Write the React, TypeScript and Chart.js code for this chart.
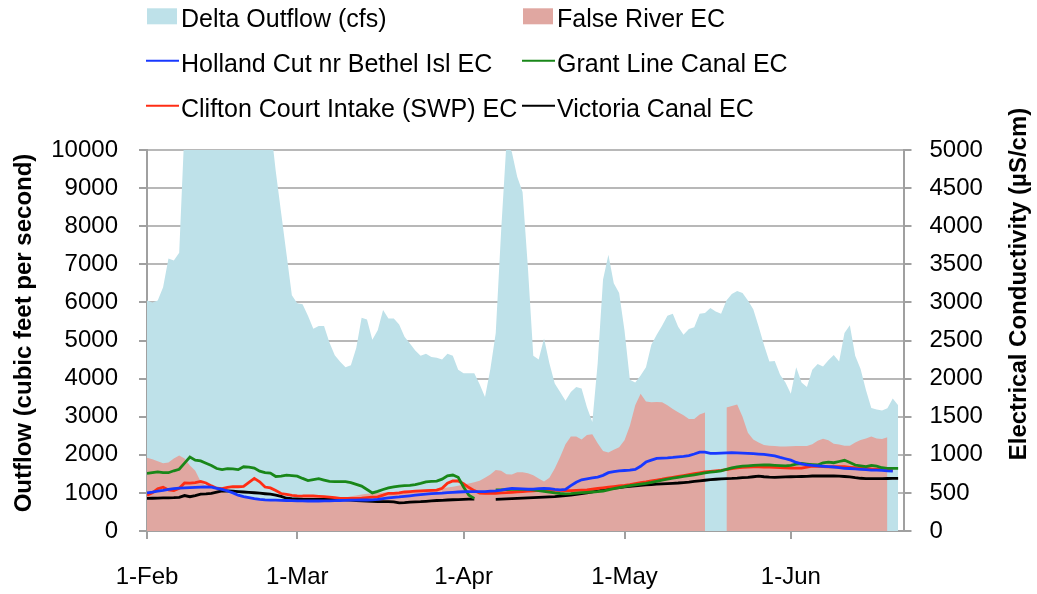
import React, { useEffect, useRef } from 'react';
import { Chart, registerables } from 'chart.js';

Chart.register(...registerables);

// ---- Data (day index 0 = 1-Feb) ----
const monthTickDays = [0, 28, 59, 89, 120];
const monthTickLabels = ['1-Feb', '1-Mar', '1-Apr', '1-May', '1-Jun'];

const leftAxisTitle = 'Outflow (cubic feet per second)';
const rightAxisTitle = 'Electrical Conductivity (µS/cm)';

const seriesLabels = [
  'Delta Outflow (cfs)',
  'False River EC',
  'Holland Cut nr Bethel Isl EC',
  'Grant Line Canal EC',
  'Clifton Court Intake (SWP) EC',
  'Victoria Canal EC',
];

const outflowCfs = [
  6050, 6000, 6050, 6400, 7150, 7100, 7300, 10600, 12800, 14500,
  15500, 16000, 15800, 15200, 14800, 14200, 13800, 13400, 13000, 12600,
  12200, 11800, 11300, 10700, 9440, 8350, 7270, 6190, 5980, 5950,
  5650, 5310, 5380, 5380, 4950, 4610, 4440, 4300, 4350, 4800,
  5600, 5550, 5020, 5270, 5800, 5580, 5580, 5420, 5100, 4920,
  4740, 4600, 4650, 4570, 4550, 4500, 4650, 4600, 4230, 4140,
  4140, 4140, 3850, 3520, 4250, 5200, 7870, 10200, 9950, 9300,
  8900, 6900, 4600, 4500, 5050, 4400, 3870, 3650, 3420, 3650,
  3780, 3740, 3250, 2860, 4400, 6600, 7250, 6500, 6250, 5260,
  3970, 3900, 4080, 4300, 4890, 5150, 5390, 5650, 5700, 5360,
  5150, 5300, 5350, 5700, 5720, 5850, 5760, 5700, 6050, 6220,
  6300, 6250, 6050, 5820, 5370, 4880, 4450, 4460, 4100, 3900,
  3600, 4300, 3900, 3780, 4230, 4380, 4320, 4480, 4620, 4450,
  5200, 5400, 4600, 4250, 3700, 3230, 3190, 3160, 3220, 3480,
  3300,
];

const falseRiverEC = [
  960, 940, 915, 890, 900, 950, 990, 950, 860, 790,
  650, 585, 560, 540, 525, 500, 480, 465, 455, 445,
  435, 425, 415, 410, 408, 408, 410, 412, 414, 416,
  418, 420, 422, 424, 426, 428, 430, 440, 455, 465,
  478, 488, 496, 500, 505, 508, 512, 515, 518, 525,
  530, 538, 545, 550, 556, 562, 570, 580, 595, 610,
  625, 640, 660, 700, 740, 800, 790, 745, 740, 770,
  770, 757, 730, 690, 650, 700, 820, 970, 1140, 1240,
  1240, 1200, 1260, 1270, 1150, 1050, 1030, 1065, 1100, 1190,
  1380, 1650, 1800, 1700, 1690, 1692, 1690, 1650, 1600, 1560,
  1520, 1470, 1470, 1530, 1555, null, null, null, 1620, 1640,
  1660, 1500, 1290, 1200, 1160, 1130, 1120, 1115, 1108, 1110,
  1112, 1115, 1115, 1115, 1140, 1185, 1210, 1190, 1145, 1135,
  1120, 1119, 1160, 1195, 1215, 1240, 1215, 1207, 1230,
];

const hollandCutEC = [
  500, 510, 522, 532, 545, 556, 562, 565, 568, 572,
  576, 580, 575, 560, 545, 525, 500, 470, 450, 438,
  425, 415, 408, 406, 404, 402, 400, 398, 396, 395,
  394, 394, 394, 395, 396, 398, 400, 402, 404, 405,
  407, 407, 408, 415, 425, 435, 442, 447, 455, 462,
  470, 478, 485, 490, 494, 497, 503, 508, 512, 515,
  516, 516, 516, 518, 522, 527, 535, 550, 560, 557,
  552, 548, 550, 555, 560, 555, 545, 540, 545, 595,
  640, 672, 684, 696, 708, 730, 765, 780, 790, 794,
  798, 808, 850, 905, 930, 954, 957, 960, 965, 972,
  980, 990, 1010, 1035, 1035, 1019, 1020, 1022, 1025, 1027,
  1024, 1022, 1020, 1015, 1010, 1005, 995, 985, 965, 948,
  930, 900, 880, 868, 860, 855, 850, 845, 840, 833,
  823, 820, 815, 810, 805, 800, 798, 795, 790, 787,
];

const grantLineEC = [
  755, 765, 775, 765, 765, 790, 810, 890, 970, 930,
  920, 890, 860, 820, 805, 818, 815, 805, 843, 838,
  825, 785, 765, 760, 715, 720, 733, 728, 720, 690,
  662, 675, 686, 668, 650, 647, 647, 647, 635, 612,
  590, 545, 500, 520, 545, 565, 578, 590, 595, 600,
  610, 625, 645, 650, 655, 680, 725, 735, 705, 578,
  470, 428, null, null, null, 538, 540, 543, 546, 547,
  547, 547, 540, 530, 520, 510, 500, 492, 486, 490,
  498, 504, 508, 512, 516, 525, 540, 555, 570, 583,
  595, 605, 615, 625, 637, 652, 667, 680, 693, 704,
  716, 727, 738, 750, 762, 772, 780, 790, 810, 828,
  843, 850, 856, 862, 864, 866, 866, 862, 858, 854,
  862, 878, 886, 879, 872, 866, 895, 903, 896, 912,
  928, 900, 866, 855, 845, 860, 850, 830, 823, 823,
  823,
];

const cliftonCourtEC = [
  470, 500, 555, 575, 538, 530, 560, 630, 628, 634,
  650, 630, 592, 562, 555, 572, 581, 581, 585, 637,
  690, 645, 577, 565, 530, 492, 480, 468, 462, 459,
  459, 459, 455, 452, 445, 437, 429, 429, 429, 429,
  432, 438, 444, 448, 470, 495, 495, 500, 512, 518,
  522, 527, 530, 533, 536, 560, 628, 656, 656, 620,
  570, 530, 497, 495, 495, 495, 500, 503, 508, 514,
  518, 522, 528, 532, 537, 536, 534, 532, 530, 531,
  534, 536, 538, 548, 558, 567, 575, 583, 592, 600,
  610, 622, 635, 645, 657, 669, 680, 693, 705, 717,
  728, 740, 752, 763, 775, 782, 788, 795, 806, 818,
  828, 834, 838, 841, 843, 840, 837, 834, 831, 828,
  826, 824, 826, 838, 851, 848, 845, 843, 843, 843,
  843, 836, 830, 825, 820, 815, 812, 806, 800, 793,
];

const victoriaCanalEC = [
  428, 430, 432, 434, 436, 438, 442, 465, 450, 465,
  483, 488, 495, 510, 525, 526, 522, 517, 512, 507,
  502, 496, 489, 483, 472, 455, 430, 424, 420, 417,
  416, 416, 416, 416, 416, 416, 416, 410, 405, 400,
  396, 392, 388, 385, 385, 385, 383, 368, 372, 378,
  382, 385, 390, 395, 400, 403, 407, 410, 413, 416,
  418, 420, null, null, null, 416, 419, 422, 426, 429,
  432, 435, 438, 441, 444, 448, 452, 458, 465, 472,
  480, 490, 500, 512, 525, 540, 552, 562, 570, 578,
  586, 593, 600, 604, 609, 614, 618, 622, 626, 630,
  636, 642, 650, 658, 666, 674, 679, 684, 688, 690,
  694, 700, 705, 712, 720, 712, 706, 705, 707, 710,
  712, 713, 715, 718, 722, 722, 722, 722, 722, 720,
  715, 710, 700, 692, 688, 687, 687, 688, 689, 690,
  691,
];

const FONT_FAMILY = "'Liberation Sans', Arial, sans-serif";

const toPoints = (vals: (number | null)[]) => vals.map((v, i) => ({ x: i, y: v }));

const overlayPlugin = {
  id: 'legendAndTitles',
  afterDraw(chart: any) {
    const ctx = chart.ctx as CanvasRenderingContext2D;
    const ds = chart.data.datasets;
    ctx.save();
    // legend (2 columns, 3 rows)
    const colX = [147, 523];
    const rowBase = [27.3, 71.7, 116.7];
    ctx.font = `25px ${FONT_FAMILY}`;
    ctx.textAlign = 'left';
    ctx.textBaseline = 'alphabetic';
    ds.forEach((d: any, i: number) => {
      const cx = colX[i % 2];
      const by = rowBase[Math.floor(i / 2)];
      if (d.fill) {
        ctx.fillStyle = d.backgroundColor;
        ctx.fillRect(cx, by - 19, 30, 16);
      } else {
        ctx.strokeStyle = d.borderColor;
        ctx.lineWidth = 2;
        ctx.beginPath();
        ctx.moveTo(cx - 1, by - 11);
        ctx.lineTo(cx + 32, by - 11);
        ctx.stroke();
      }
      ctx.fillStyle = '#000';
      ctx.fillText(d.label, cx + 34, by);
    });
    // axis titles
    ctx.font = `bold 24px ${FONT_FAMILY}`;
    ctx.textAlign = 'center';
    ctx.textBaseline = 'middle';
    ctx.save();
    ctx.translate(24, 333);
    ctx.rotate(-Math.PI / 2);
    ctx.fillText(leftAxisTitle, 0, 0);
    ctx.restore();
    ctx.save();
    ctx.translate(1019, 284);
    ctx.rotate(-Math.PI / 2);
    ctx.fillText(rightAxisTitle, 0, 0);
    ctx.restore();
    ctx.restore();
  },
};

export default function App() {
  const canvasRef = useRef<HTMLCanvasElement | null>(null);

  useEffect(() => {
    const canvas = canvasRef.current;
    if (!canvas) return;
    const tickFont = { family: FONT_FAMILY, size: 24 };
    const axisColor = '#a0a0a0';
    const lineDs = (label: string, vals: (number | null)[], color: string) => ({
      label,
      data: toPoints(vals),
      yAxisID: 'y2',
      borderColor: color,
      backgroundColor: color,
      borderWidth: 2.8,
      pointRadius: 0,
      fill: false,
      spanGaps: false,
      tension: 0,
      order: 1,
    });
    const chart = new Chart(canvas, {
      type: 'line',
      data: {
        datasets: [
          {
            label: seriesLabels[0],
            data: toPoints(outflowCfs),
            yAxisID: 'y',
            fill: 'origin',
            backgroundColor: 'rgb(190,225,233)',
            borderColor: 'rgba(0,0,0,0)',
            borderWidth: 0,
            pointRadius: 0,
            tension: 0,
            order: 3,
          } as any,
          {
            label: seriesLabels[1],
            data: toPoints(falseRiverEC),
            yAxisID: 'y2',
            fill: 'origin',
            backgroundColor: 'rgb(224,167,161)',
            borderColor: 'rgba(0,0,0,0)',
            borderWidth: 0,
            pointRadius: 0,
            spanGaps: false,
            tension: 0,
            order: 2,
          } as any,
          lineDs(seriesLabels[2], hollandCutEC, 'rgb(24,56,255)'),
          lineDs(seriesLabels[3], grantLineEC, 'rgb(25,135,25)'),
          lineDs(seriesLabels[4], cliftonCourtEC, 'rgb(255,45,20)'),
          lineDs(seriesLabels[5], victoriaCanalEC, '#000000'),
        ],
      },
      options: {
        responsive: false,
        animation: false,
        devicePixelRatio: 1,
        layout: { padding: { top: 150, left: 0, right: 0, bottom: 0 } },
        plugins: {
          legend: { display: false },
          tooltip: { enabled: false },
        },
        scales: {
          x: {
            type: 'linear',
            min: 0,
            max: 141,
            afterBuildTicks: (s: any) => {
              s.ticks = monthTickDays.map((v) => ({ value: v }));
            },
            afterFit: (s: any) => {
              s.height = 63;
            },
            ticks: {
              autoSkip: false,
              maxRotation: 0,
              padding: 24,
              color: '#000',
              font: tickFont,
              callback: (v: any) => {
                const k = monthTickDays.indexOf(Number(v));
                return k >= 0 ? monthTickLabels[k] : '';
              },
            },
            grid: { drawOnChartArea: false, drawTicks: true, tickLength: 8, color: axisColor, lineWidth: 2 },
            border: { color: axisColor, width: 2 },
          },
          y: {
            type: 'linear',
            position: 'left',
            min: 0,
            max: 10000,
            afterFit: (s: any) => {
              s.width = 147;
            },
            ticks: {
              stepSize: 1000,
              autoSkip: false,
              padding: 21,
              color: '#000',
              font: tickFont,
              callback: (v: any) => String(v),
            },
            grid: { color: '#b8b8b8', lineWidth: 2, tickLength: 8, tickColor: axisColor },
            border: { color: axisColor, width: 2 },
          },
          y2: {
            type: 'linear',
            position: 'right',
            min: 0,
            max: 5000,
            afterFit: (s: any) => {
              s.width = 133.5;
            },
            ticks: {
              stepSize: 500,
              autoSkip: false,
              padding: 18,
              color: '#000',
              font: tickFont,
              callback: (v: any) => String(v),
            },
            grid: { drawOnChartArea: false, tickLength: 8, color: axisColor, lineWidth: 2 },
            border: { color: axisColor, width: 2 },
          },
        },
      } as any,
      plugins: [overlayPlugin],
    });
    return () => chart.destroy();
  }, []);

  return (
    <div style={{ position: 'fixed', left: 0, top: 0, width: 1037, height: 594, background: '#fff' }}>
      <canvas ref={canvasRef} width={1037} height={594} style={{ display: 'block', width: 1037, height: 594 }} />
    </div>
  );
}
